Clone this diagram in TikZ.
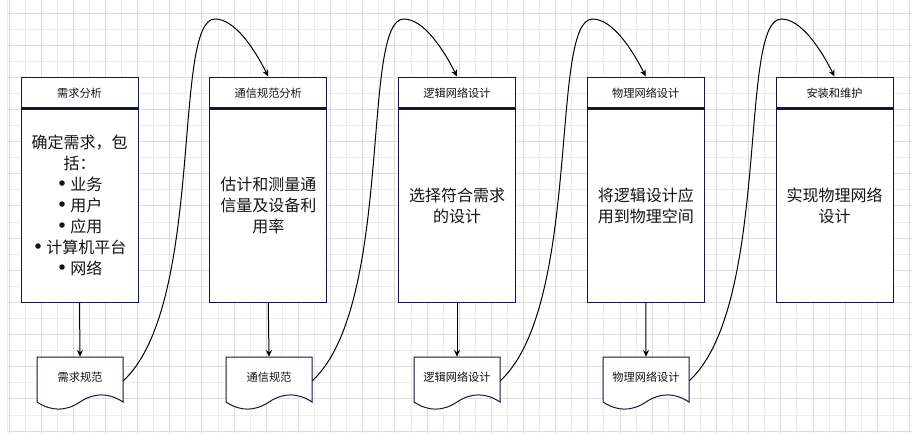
\documentclass[tikz,border=0pt]{standalone}
\usepackage{fontspec}
\setmainfont{Noto Sans CJK SC}
\newfontfamily\dejavu{DejaVu Sans}
\usetikzlibrary{arrows.meta}
\definecolor{navy}{RGB}{22,22,66}
\definecolor{gridmaj}{RGB}{220,220,220}
\definecolor{gridmin}{RGB}{237,237,237}
\definecolor{txt}{RGB}{20,20,20}
\newcommand\bul{{\dejavu\fontsize{14pt}{15.8pt}\selectfont •}\hspace{2pt}}
\tikzset{
  hdr/.style={draw=navy, fill=white, line width=0.75pt, minimum width=87.75pt, minimum height=24pt, inner sep=0pt, font=\fontsize{8.4pt}{10pt}\selectfont, text=txt},
  bodybox/.style={draw=navy, fill=white, line width=0.75pt, minimum width=87.75pt, minimum height=144.75pt, inner sep=0pt, align=center, font=\fontsize{12pt}{15.8pt}\selectfont, text=txt},
  docbox/.style={minimum width=64.5pt, minimum height=39.75pt, inner sep=0pt},
  doctext/.style={font=\fontsize{8.4pt}{10pt}\selectfont, text=txt, inner sep=0pt},
  arr/.style={draw=black, line width=0.75pt, -{Stealth[length=5pt,width=4.5pt]}},
  divider/.style={draw=navy, line width=1.6pt},
  docline/.style={draw=navy, line width=0.75pt, fill=white},
  gmin/.style={draw=gridmin, line width=0.75pt},
  gmaj/.style={draw=gridmaj, line width=0.75pt},
}
\newcommand\docshape[1]{%
  \draw[docline] ([shift={(-43,-26.5)}]#1.center) -- ([shift={(43,-26.5)}]#1.center)
    -- ([shift={(43,18.5)}]#1.center)
    .. controls ([shift={(28.67,9)}]#1.center) and ([shift={(14.33,9)}]#1.center) .. ([shift={(0,18.5)}]#1.center)
    .. controls ([shift={(-14.33,28)}]#1.center) and ([shift={(-28.67,28)}]#1.center) .. ([shift={(-43,18.5)}]#1.center)
    -- cycle;}
\begin{document}
\begin{tikzpicture}[x=0.75pt,y=-0.75pt]
\useasboundingbox (0,0) rectangle (912,433);
\fill[white] (0,0) rectangle (912,433);
% grid
\draw[gmin] (7,0) -- (7,433);
\foreach \k in {1,3,...,55} \draw[gmin] ({9+16.08*\k},0) -- ({9+16.08*\k},433);
\foreach \k in {1,3,...,25} \draw[gmin] (7,{13+16.08*\k}) -- (912,{13+16.08*\k});
\foreach \k in {0,2,...,56} \draw[gmaj] ({9+16.08*\k},0) -- ({9+16.08*\k},433);
\foreach \k in {0,2,...,26} \draw[gmaj] (7,{13+16.08*\k}) -- (912,{13+16.08*\k});

% boxes
\node[hdr] (h1) at (79.5,93) {需求分析};
\node[bodybox] (b1) at (79.5,205.5) {确定需求，包\\括：\\\bul 业务\\\bul 用户\\\bul 应用\\\bul 计算机平台\\\bul 网络};
\node[hdr] (h2) at (268.25,93) {通信规范分析};
\node[bodybox] (b2) at (268.25,205.5) {估计和测量通\\信量及设备利\\用率};
\node[hdr] (h3) at (457,93) {逻辑网络设计};
\node[bodybox] (b3) at (457,205.5) {选择符合需求\\的设计};
\node[hdr] (h4) at (645.75,93) {物理网络设计};
\node[bodybox] (b4) at (645.75,205.5) {将逻辑设计应\\用到物理空间};
\node[hdr] (h5) at (834.5,93) {安装和维护};
\node[bodybox] (b5) at (834.5,205.5) {实现物理网络\\设计};
\foreach \n in {b1,b2,b3,b4,b5} \draw[divider] (\n.north west) -- (\n.north east);

% documents
\node[docbox] (d1) at (80,383.5) {};
\node[docbox] (d2) at (269,383.5) {};
\node[docbox] (d3) at (457,383.5) {};
\node[docbox] (d4) at (646,383.5) {};
\docshape{d1}\docshape{d2}\docshape{d3}\docshape{d4}
\node[doctext] (t1) at (80,377) {需求规范};
\node[doctext] (t2) at (269,377) {通信规范};
\node[doctext] (t3) at (457,377) {逻辑网络设计};
\node[doctext] (t4) at (646,377) {物理网络设计};

% vertical arrows
\draw[arr] (b1.south) -- (d1.north);
\draw[arr] (b2.south) -- (d2.north);
\draw[arr] (b3.south) -- (d3.north);
\draw[arr] (b4.south) -- (d4.north);

% curved connectors
\coordinate (p1) at (215,19);
\coordinate (p2) at (403.75,19);
\coordinate (p3) at (592.5,19);
\coordinate (p4) at (781.25,19);
\draw[arr] ([yshift=2pt]d1.east) .. controls +(82,-76) and +(-43,0) .. (p1) .. controls +(20,0) and +(-13.5,-27) .. (h2.north);
\draw[arr] ([yshift=2pt]d2.east) .. controls +(82,-76) and +(-43,0) .. (p2) .. controls +(20,0) and +(-13.5,-27) .. (h3.north);
\draw[arr] ([yshift=2pt]d3.east) .. controls +(82,-76) and +(-43,0) .. (p3) .. controls +(20,0) and +(-13.5,-27) .. (h4.north);
\draw[arr] ([yshift=2pt]d4.east) .. controls +(82,-76) and +(-43,0) .. (p4) .. controls +(20,0) and +(-13.5,-27) .. (h5.north);
\end{tikzpicture}
\end{document}
